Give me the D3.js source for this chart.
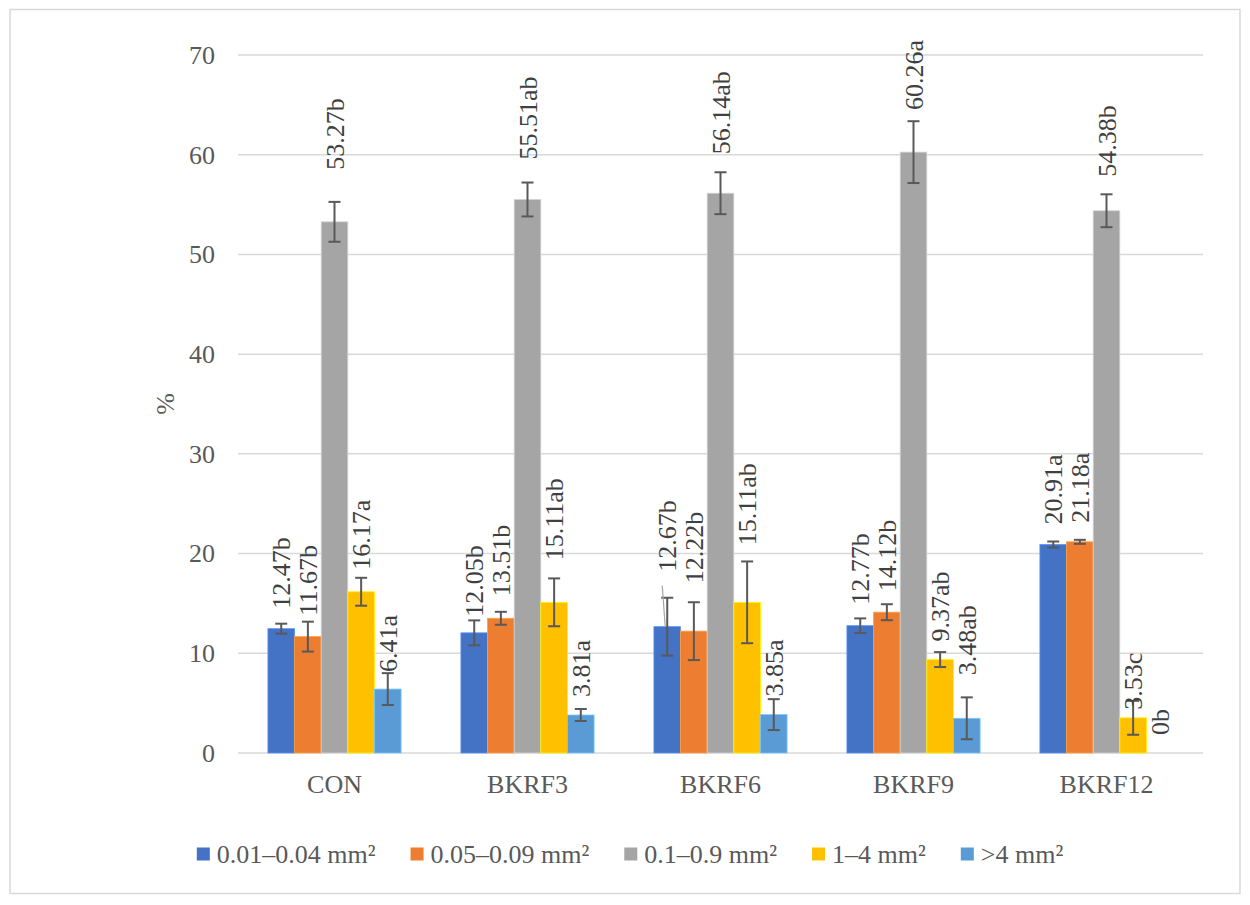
<!DOCTYPE html>
<html>
<head>
<meta charset="utf-8">
<script src="https://cdn.jsdelivr.net/npm/d3@7"></script>
<style>
  body { margin: 0; background: #fff; }
  svg text { font-family: "Liberation Serif", "Times New Roman", Times, "DejaVu Serif", serif; }
</style>
</head>
<body>
<div class="chartWrap"></div>
<script>
// categories + series
var categories = ['CON', 'BKRF3', 'BKRF6', 'BKRF9', 'BKRF12'];
var seriesNames = ['0.01–0.04 mm²', '0.05–0.09 mm²', '0.1–0.9 mm²', '1–4 mm²', '>4 mm²'];

var valsA = [12.47, 12.05, 12.67, 12.77, 20.91];
var valsB = [11.67, 13.51, 12.22, 14.12, 21.18];
var valsC = [53.27, 55.51, 56.14, 60.26, 54.38];
var valsD = [16.17, 15.11, 15.11, 9.37, 3.53];
var valsE = [6.41, 3.81, 3.85, 3.48, 0];

// +/- error
var errA = [0.5, 1.25, 2.9, 0.73, 0.3];
var errB = [1.5, 0.65, 2.9, 0.8, 0.2];
var errC = [2.0, 1.7, 2.1, 3.1, 1.65];
var errD = [1.4, 2.4, 4.1, 0.75, 1.7];
var errE = [1.6, 0.6, 1.55, 2.1, 0];

// significance letters
var lettersA = ['b', 'b', 'b', 'b', 'a'];
var lettersB = ['b', 'b', 'b', 'b', 'a'];
var lettersC = ['b', 'ab', 'ab', 'a', 'b'];
var lettersD = ['a', 'ab', 'ab', 'ab', 'c'];
var lettersE = ['a', 'a', 'a', 'ab', 'b'];

var yTicks = [0, 10, 20, 30, 40, 50, 60, 70];

var FONT = '"Liberation Serif", "Times New Roman", Times, "DejaVu Serif", serif';

dopplerBars = {

  init: function(){
    self = this;
    self.width = 1250;
    self.height = 905;
    self.plot = {left: 238, right: 1203, top: 55, bottom: 753};
    self.colors = ['#4472c4', '#ed7d31', '#a5a5a5', '#ffc000', '#5b9bd5'];
    self.fontSize = 26;
    // how far (px) each value label sits above its bar, Excel labels were dragged around by hand
    self.labelLift = [
      [20, 16, 55, 21, 20],
      [21, 22, 48, 21, 19],
      [52, 40, 39, 42, 34],
      [22, 42, 57, 18, 8],
      [17, 18, 18, 43, 18]
    ];

    self.series = [
      {vals: valsA, err: errA, letters: lettersA},
      {vals: valsB, err: errB, letters: lettersB},
      {vals: valsC, err: errC, letters: lettersC},
      {vals: valsD, err: errD, letters: lettersD},
      {vals: valsE, err: errE, letters: lettersE}
    ];

    self.createSvg(self);
  },

  createSvg: function(self){
    self.svg = d3.select('.chartWrap')
      .append('svg')
      .attr('width', self.width)
      .attr('height', self.height)
      .style('font-family', FONT);

    self.svg.append('rect')
      .attr('x', 10).attr('y', 9.5)
      .attr('width', 1230).attr('height', 884)
      .style('fill', '#fff')
      .style('stroke', '#d9d9d9')
      .style('stroke-width', 1.5);

    self.x = d3.scaleBand()
      .domain(categories)
      .range([self.plot.left, self.plot.right])
      .paddingInner(0.31)
      .paddingOuter(0.155);

    self.xSub = d3.scaleBand()
      .domain(d3.range(seriesNames.length))
      .range([0, self.x.bandwidth()]);

    self.y = d3.scaleLinear()
      .domain([0, 70])
      .range([self.plot.bottom, self.plot.top]);

    self.drawAxes(self);
    self.drawBars(self);
    self.drawLegend(self);
  },

  drawAxes: function(self){
    // gridlines
    self.svg.append('g')
      .selectAll('line')
      .data(yTicks)
      .enter()
        .append('line')
        .attr('x1', self.plot.left)
        .attr('x2', self.plot.right)
        .attr('y1', function(d){ return self.y(d); })
        .attr('y2', function(d){ return self.y(d); })
        .style('stroke', '#d9d9d9')
        .style('stroke-width', 1.5);

    var yAxis = d3.axisLeft(self.y).tickValues(yTicks).tickSize(0).tickPadding(23);
    var gy = self.svg.append('g')
      .attr('transform', 'translate(' + self.plot.left + ',0)')
      .call(yAxis)
      .attr('font-family', FONT)
      .attr('font-size', self.fontSize);
    gy.select('.domain').remove();
    gy.selectAll('text').style('fill', '#595959');

    var xAxis = d3.axisBottom(self.x).tickSize(0).tickPadding(22);
    var gx = self.svg.append('g')
      .attr('transform', 'translate(0,' + self.plot.bottom + ')')
      .call(xAxis)
      .attr('font-family', FONT)
      .attr('font-size', self.fontSize);
    gx.select('.domain').remove();
    gx.selectAll('text').style('fill', '#595959');

    self.svg.append('text')
      .attr('transform', 'translate(165,' + ((self.plot.top + self.plot.bottom) / 2) + ') rotate(-90)')
      .attr('text-anchor', 'middle')
      .attr('dy', '0.35em')
      .style('font-size', self.fontSize + 'px')
      .style('fill', '#595959')
      .text('%');
  },

  drawBars: function(self){
    var errW = 6;

    self.series.forEach(function(s, si){
      var rows = categories.map(function(c, ci){
        return {cat: c, ci: ci, v: s.vals[ci], e: s.err[ci], lab: s.vals[ci] + s.letters[ci]};
      });
      var g = self.svg.append('g').attr('class', 'series' + si);
      var bx = function(d){ return self.x(d.cat) + self.xSub(si); };
      var cx = function(d){ return bx(d) + self.xSub.bandwidth() / 2; };

      g.selectAll('rect')
        .data(rows)
        .enter()
          .append('rect')
          .attr('x', bx)
          .attr('y', function(d){ return self.y(d.v); })
          .attr('width', self.xSub.bandwidth())
          .attr('height', function(d){ return self.y(0) - self.y(d.v); })
          .style('fill', self.colors[si])
          .style('stroke', d3.color(self.colors[si]).brighter(0.7))
          .style('stroke-width', 0.8);

      // error bars
      var eg = g.selectAll('.err')
        .data(rows.filter(function(d){ return d.e > 0; }))
        .enter()
          .append('g')
          .attr('class', 'err')
          .style('stroke', '#595959')
          .style('stroke-width', 2);
      eg.append('line')
        .attr('x1', cx).attr('x2', cx)
        .attr('y1', function(d){ return self.y(d.v + d.e); })
        .attr('y2', function(d){ return self.y(d.v - d.e); });
      eg.append('line')
        .attr('x1', function(d){ return cx(d) - errW; })
        .attr('x2', function(d){ return cx(d) + errW; })
        .attr('y1', function(d){ return self.y(d.v + d.e); })
        .attr('y2', function(d){ return self.y(d.v + d.e); });
      eg.append('line')
        .attr('x1', function(d){ return cx(d) - errW; })
        .attr('x2', function(d){ return cx(d) + errW; })
        .attr('y1', function(d){ return self.y(d.v - d.e); })
        .attr('y2', function(d){ return self.y(d.v - d.e); });

      // leader line on the one label that got dragged far off (BKRF6, first series)
      if(si === 0){
        var d6 = rows[2];
        g.append('line')
          .attr('x1', cx(d6) - 5)
          .attr('y1', self.y(d6.v) - self.labelLift[si][2] + 14)
          .attr('x2', cx(d6) - 2)
          .attr('y2', self.y(d6.v))
          .style('stroke', '#a6a6a6')
          .style('stroke-width', 1.2);
      }

      g.selectAll('.valLabel')
        .data(rows)
        .enter()
          .append('text')
          .attr('class', 'valLabel')
          .attr('transform', function(d){
            return 'translate(' + cx(d) + ',' + (self.y(d.v) - self.labelLift[si][d.ci]) + ') rotate(-90)';
          })
          .attr('dy', '0.35em')
          .style('font-size', self.fontSize + 'px')
          .style('fill', '#404040')
          .text(function(d){ return d.lab; });
    });
  },

  drawLegend: function(self){
    var lg = self.svg.append('g').attr('class', 'legend');
    var xPos = 0;
    seriesNames.forEach(function(name, i){
      var item = lg.append('g').attr('transform', 'translate(' + xPos + ',0)');
      item.append('rect')
        .attr('x', 0).attr('y', -6.5)
        .attr('width', 13).attr('height', 13)
        .style('fill', self.colors[i]);
      var t = item.append('text')
        .attr('x', 20)
        .attr('dy', '0.35em')
        .style('font-size', self.fontSize + 'px')
        .style('fill', '#595959')
        .text(name);
      xPos += 20 + t.node().getComputedTextLength() + 35;
    });
    var total = xPos - 35;
    lg.attr('transform', 'translate(' + (630 - total / 2) + ',854)');
  }

};

dopplerBars.init();
</script>
</body>
</html>
